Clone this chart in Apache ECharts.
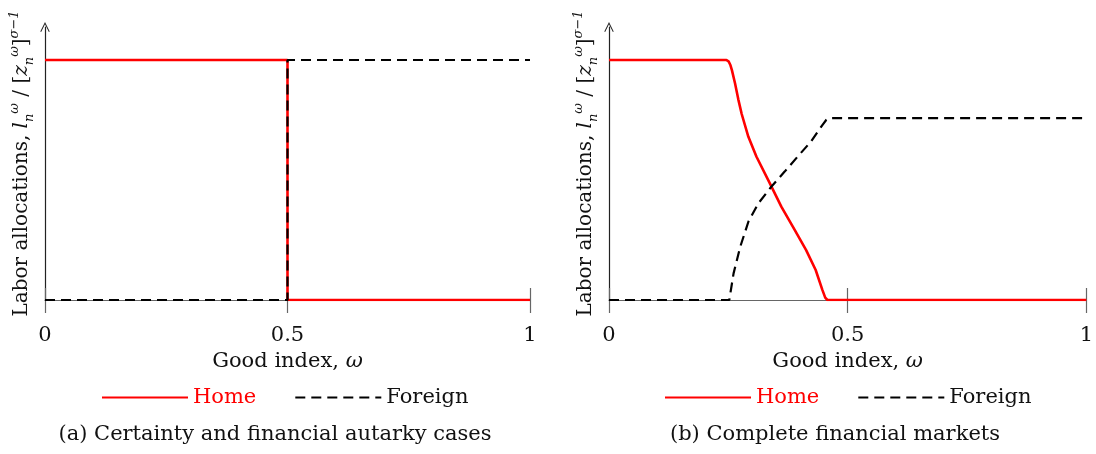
<!DOCTYPE html>
<html>
<head>
<meta charset="utf-8">
<script src="https://cdn.jsdelivr.net/npm/echarts@6/dist/echarts.min.js"></script>
<style>
  html, body { margin: 0; padding: 0; background: #fff; }
  #chart { width: 1096px; height: 454px; }
</style>
</head>
<body>
<div id="chart"></div>
<script>
// Panel (a): certainty / financial autarky — a sharp switch at omega = 0.5
const autarkyHome = [[0, 1], [0.5, 1], [0.5, 0], [1, 0]];
const autarkyForeign = [[0, 0], [0.5, 0], [0.5, 1], [1, 1]];

// Panel (b): complete financial markets — good index and normalised labor
const completeHomeOmega = [0, 0.246, 0.251, 0.2545, 0.2575, 0.264, 0.271, 0.278, 0.292, 0.309, 0.337, 0.361, 0.389, 0.413, 0.433, 0.447, 0.453, 0.4576, 1];
const completeHomeLabor = [1, 1, 0.993, 0.978, 0.958, 0.903, 0.835, 0.775, 0.680, 0.597, 0.486, 0.389, 0.292, 0.208, 0.125, 0.042, 0.01, 0, 0];
const completeForeignOmega = [0, 0.252, 0.261, 0.275, 0.292, 0.313, 0.340, 0.368, 0.395, 0.423, 0.447, 0.455, 0.461, 1];
const completeForeignLabor = [0, 0, 0.111, 0.222, 0.326, 0.403, 0.472, 0.535, 0.597, 0.660, 0.729, 0.750, 0.758, 0.758];

const xTicks = [0, 0.5, 1];
const seriesNames = ['Home', 'Foreign'];
const captions = ['(a) Certainty and financial autarky cases', '(b) Complete financial markets'];

const FONT = 'DejaVu Serif';
const FS = 21;
const RED = '#ff0000';
const pairs = (xs, ys) => xs.map((x, i) => [x, ys[i]]);

// rich-text styles for the math in axis names
function mathRich(size) {
  return {
    t: { fontFamily: FONT, fontSize: size, lineHeight: 28, color: '#111' },
    i: { fontFamily: FONT, fontStyle: 'italic', fontSize: size, lineHeight: 28, color: '#111' },
    sb: { fontFamily: FONT, fontStyle: 'italic', fontSize: 13, lineHeight: 13, verticalAlign: 'bottom', color: '#111' },
    sp: { fontFamily: FONT, fontStyle: 'italic', fontSize: 13, lineHeight: 14, verticalAlign: 'top', color: '#111' }
  };
}

const yName = '{t|Labor allocations, }{i|l}{sb|n}{sp|ω}{t| / [}{i|z}{sb|n}{sp|ω}{t|]}{sp|σ−1}';
const xName = '{t|Good index, }{i|ω}';

const grids = [
  { left: 45, right: 566, top: 27, bottom: 154 },
  { left: 609, right: 4, top: 27, bottom: 154 }
];

const xAxes = [];
const yAxes = [];
grids.forEach((g, k) => {
  // main axis: line, outward ticks and labels
  xAxes.push({
    type: 'value', gridIndex: k, min: 0, max: 1, interval: 0.5, position: 'bottom',
    name: xName, nameLocation: 'middle', nameGap: 37,
    nameTextStyle: { rich: mathRich(FS) },
    axisLine: { show: true, onZero: false, lineStyle: { color: '#666', width: 1.2 } },
    axisTick: { show: true, inside: false, length: 13, lineStyle: { color: '#666', width: 1.2 } },
    axisLabel: { show: true, margin: 25, fontFamily: FONT, fontSize: FS, color: '#111',
      customValues: xTicks },
    splitLine: { show: false }
  });
  // companion axis: the inward half of each crossing tick
  xAxes.push({
    type: 'value', gridIndex: k, min: 0, max: 1, interval: 0.5, position: 'bottom', offset: 0,
    axisLine: { show: false, onZero: false },
    axisTick: { show: true, inside: true, length: 12, lineStyle: { color: '#666', width: 1.2 } },
    axisLabel: { show: false },
    splitLine: { show: false }
  });
  yAxes.push({
    type: 'value', gridIndex: k, min: 0, max: 1.1375,
    name: yName, nameLocation: 'middle', nameGap: 9, nameRotate: 90,
    nameTextStyle: { rich: mathRich(20) },
    axisLine: {
      show: true, onZero: false,
      symbol: ['none', 'path://M0,10 L5,0 L10,10 L9.1,10.6 L5,2.3 L0.9,10.6 Z'],
      symbolSize: [11, 10],
      lineStyle: { color: '#222', width: 1.2 }
    },
    axisTick: { show: false },
    axisLabel: { show: false },
    splitLine: { show: false }
  });
});

const homeLine = { color: RED, width: 2.6, type: 'solid' };
const foreignLine = { color: '#000', width: 2.2, type: [10, 6] };

const series = [
  { name: 'Home', type: 'line', xAxisIndex: 0, yAxisIndex: 0, data: autarkyHome,
    showSymbol: false, symbol: 'none', lineStyle: homeLine, itemStyle: { color: RED }, z: 3 },
  { name: 'Foreign', type: 'line', xAxisIndex: 0, yAxisIndex: 0, data: autarkyForeign,
    showSymbol: false, symbol: 'none', lineStyle: foreignLine, itemStyle: { color: '#000' }, z: 4 },
  { name: 'Home', type: 'line', xAxisIndex: 2, yAxisIndex: 1, data: pairs(completeHomeOmega, completeHomeLabor),
    showSymbol: false, symbol: 'none', lineStyle: homeLine, itemStyle: { color: RED }, z: 3 },
  { name: 'Foreign', type: 'line', xAxisIndex: 2, yAxisIndex: 1, data: pairs(completeForeignOmega, completeForeignLabor),
    showSymbol: false, symbol: 'none', lineStyle: foreignLine, itemStyle: { color: '#000' }, z: 4 }
];

const legendItems = [
  { name: seriesNames[0], textStyle: { color: RED } },
  { name: seriesNames[1], textStyle: { color: '#111' } }
];
const legendBase = {
  data: legendItems, top: 382, itemWidth: 86, itemHeight: 26, itemGap: 38,
  selectedMode: false,
  itemStyle: { opacity: 0 },
  textStyle: { fontFamily: FONT, fontSize: FS }
};

const chart = echarts.init(document.getElementById('chart'), null, { renderer: 'canvas' });
chart.setOption({
  animation: false,
  backgroundColor: '#fff',
  grid: grids,
  xAxis: xAxes,
  yAxis: yAxes,
  legend: [
    Object.assign({}, legendBase, { left: 96 }),
    Object.assign({}, legendBase, { left: 659 })
  ],
  title: captions.map((c, k) => ({
    text: c, left: k === 0 ? 270 : 830, top: 419, textAlign: 'center',
    textStyle: { fontFamily: FONT, fontSize: FS, fontWeight: 'normal', color: '#111' }
  })),
  series: series
});
</script>
</body>
</html>
